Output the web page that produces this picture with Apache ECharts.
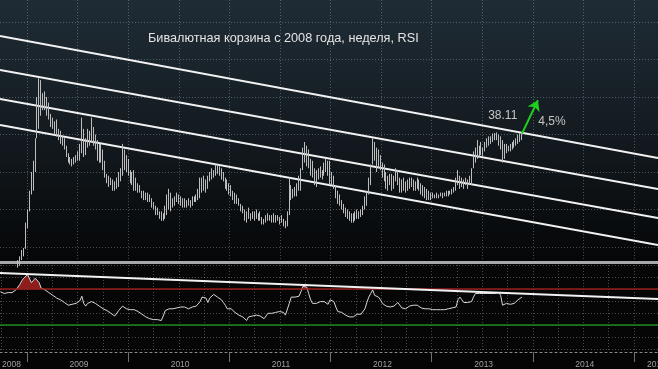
<!DOCTYPE html>
<html><head><meta charset="utf-8">
<script src="https://cdn.jsdelivr.net/npm/echarts@6/dist/echarts.min.js"></script>
<style>html,body{margin:0;padding:0;background:#050506;}#c{width:658px;height:369px;}</style>
</head><body><div id="c"></div>
<script>
// ---- data (weekly bars, decimal-year dates) ----
const weekStart = 2008.737;          // first weekly bar (late Sep 2008)
const weekStep = 7 / 365.25;
const highs = [
30.4,30.5,30.5,30.6,30.7,30.8,30.9,31.0,31.1,31.3,
31.5,31.84,31.95,33.3,34.0,35.0,36.0,36.6,37.8,40.0,
41.0,40.9,40.2,40.3,40.0,39.7,39.1,38.9,38.7,38.8,
38.3,38.2,37.9,37.8,37.4,37.0,36.8,36.7,36.8,36.9,
37.1,37.5,38.9,38.3,37.8,38.3,38.2,38.9,38.4,38.0,
37.7,37.5,37.5,37.2,36.6,35.9,35.8,35.7,35.6,35.5,
35.7,36.0,36.2,37.5,37.2,36.9,36.7,36.1,36.0,36.1,
35.7,35.4,35.3,35.0,35.0,34.9,34.9,34.8,34.6,34.4,
34.2,34.1,33.9,33.9,33.8,34.2,34.8,35.1,34.9,34.6,
34.7,34.9,34.8,34.7,34.6,34.6,34.5,34.6,34.5,34.7,
34.7,34.8,35.1,35.7,35.7,35.8,35.6,35.8,36.0,36.2,
36.1,36.4,36.4,36.3,36.2,36.0,35.7,35.6,35.4,35.3,
35.0,34.9,34.8,34.6,34.3,34.2,34.0,33.9,34.1,33.8,
33.9,33.9,34.0,33.8,33.9,33.6,33.5,33.7,33.8,33.7,
33.7,33.8,33.7,33.7,33.6,33.7,33.5,33.4,33.9,35.7,
35.3,35.1,35.2,35.4,35.8,36.2,37.3,37.6,37.4,37.2,
36.7,36.6,36.2,36.1,36.2,36.3,36.1,36.5,36.7,36.6,
36.6,36.0,35.8,35.3,35.0,34.8,34.5,34.3,34.1,34.0,
33.9,33.8,33.8,33.9,34.0,33.9,34.0,34.2,34.7,35.0,
35.7,36.4,37.8,37.6,37.3,37.2,36.9,36.5,36.4,36.0,
35.8,35.9,35.9,35.8,36.2,36.1,35.7,35.6,35.7,35.5,
35.6,35.7,35.7,35.6,35.5,35.7,35.6,35.4,35.3,35.2,
35.1,35.0,34.9,34.9,34.8,34.9,34.8,34.9,34.9,34.9,
35.0,35.0,35.0,35.1,35.2,35.7,36.1,35.8,35.7,35.6,
35.7,35.6,35.8,36.2,37.1,37.3,37.7,37.4,37.6,37.3,
37.6,37.8,37.9,37.9,38.05,38.08,38.11,38.0,37.9,37.7,
37.5,37.5,37.4,37.5,37.6,37.7,37.8,38.0,38.07,38.05
];
const lows = [
30.0,30.1,30.2,30.2,30.3,30.4,30.5,30.6,30.7,30.9,
31.0,31.3,31.5,31.9,33.0,33.9,34.8,35.0,36.0,37.8,
38.3,39.0,39.3,39.3,39.0,38.8,38.4,38.3,38.0,37.9,
37.7,37.5,37.4,37.2,36.8,36.5,36.4,36.3,36.4,36.5,
36.6,36.6,37.0,36.8,36.9,37.3,37.4,37.6,37.4,37.2,
36.6,36.5,36.5,36.1,35.7,35.4,35.2,35.3,35.0,35.0,
35.1,35.2,35.5,35.8,36.1,36.0,35.8,35.4,35.3,35.0,
35.0,34.9,34.9,34.6,34.5,34.5,34.4,34.4,34.1,34.0,
33.7,33.7,33.5,33.4,33.4,33.5,33.7,34.0,33.9,34.1,
34.2,34.4,34.3,34.2,34.1,34.1,34.1,34.2,34.1,34.2,
34.4,34.4,34.5,34.6,34.9,35.0,34.9,35.1,35.5,35.6,
35.7,35.8,35.9,35.8,35.6,35.5,35.1,35.0,34.8,34.7,
34.5,34.3,34.3,34.2,33.9,33.8,33.4,33.3,33.5,33.4,
33.5,33.4,33.5,33.4,33.4,33.2,33.2,33.3,33.4,33.4,
33.3,33.3,33.3,33.4,33.2,33.3,33.1,33.0,33.1,33.7,
34.5,34.6,34.7,34.7,35.0,35.0,36.1,36.5,36.3,36.2,
35.8,35.7,35.3,35.2,35.6,35.7,35.6,35.8,36.0,35.8,
35.3,35.3,35.1,34.6,34.3,34.2,34.0,33.8,33.6,33.5,
33.4,33.3,33.3,33.4,33.5,33.5,33.6,33.7,34.0,34.2,
34.8,35.3,36.4,36.6,36.0,36.2,36.1,35.7,35.5,35.1,
35.0,35.3,35.0,35.1,35.5,35.3,34.9,34.9,35.0,34.9,
35.0,35.1,35.2,35.0,35.0,35.1,35.0,34.8,34.7,34.6,
34.5,34.5,34.5,34.6,34.6,34.6,34.6,34.7,34.6,34.7,
34.7,34.7,34.8,34.8,34.9,35.0,35.3,35.1,35.2,35.1,
35.3,35.1,35.3,35.3,36.2,36.5,36.7,36.8,36.9,36.8,
37.1,37.3,37.4,37.5,37.6,37.7,37.7,37.4,37.2,36.5,
36.7,37.0,37.1,37.1,37.2,37.3,37.4,37.5,37.6,37.7
];
const rsi = [
67,66,65,66,66,66,66,67,69,71,
75,79,82,84,86,85,77,79,82,83,
77,71,70,69,68,66,65,63,61,60,
59,58,57,55,53,52,51,53,52,54,
54,57,62,54,51,54,55,56,55,54,
52,51,49,48,47,46,44,43,41,40,
42,46,48,51,53,48,46,47,48,47,
46,45,43,42,41,39,38,37,37,36,
35,36,34,35,40,46,44,48,49,48,
50,49,51,50,49,50,49,48,49,50,
50,51,53,56,61,62,60,55,60,61,
64,63,61,60,58,55,52,48,47,48,
46,44,42,41,40,39,37,35,39,41,
40,42,41,42,40,41,37,40,43,44,
43,45,44,45,45,46,44,41,39,54,
61,62,61,63,62,67,73,74,72,65,
58,54,56,54,55,56,54,56,54,53,
58,57,56,50,45,44,44,42,41,40,
39,39,39,40,42,42,42,43,48,55,
61,65,69,63,65,61,58,54,53,51,
52,50,51,51,53,55,53,49,50,48,
50,51,50,52,51,52,50,49,51,48,
49,48,46,47,46,47,48,47,48,47,
48,48,49,49,50,50,58,61,58,55,
56,55,54,56,61,65,66,65,66,65,
63,65,64,65,65,65,65,66,63,52,
50,54,54,53,52,54,56,58,60,61
];
// trend channel (price units) at left and right edges of the chart
const channelStart = [43.25, 41.44, 39.89, 38.51];
const channelEnd   = [36.75, 35.09, 33.55, 32.11];
// RSI trend line at left / right edge
const rsiTrend = [87.8, 58.9];
const rsiHigh = 70, rsiLow = 30;
// labelled recent high and forecast annotation
const labelSince = 2013.0;
const forecastPct = 4.5;
const forecastDate = 2014.05;
const years = [2009, 2010, 2011, 2012, 2013, 2014, 2015];
// left edges of the year labels
const yearLabelPos = [2008.753, 2009.42, 2010.42, 2011.42, 2012.42, 2013.42, 2014.42, 2015.128];
const title = 'Бивалютная корзина с 2008 года, неделя, RSI';

// ---- axes extents ----
const XMIN = 2008.7331, XMAX = 2015.237;
const YMIN = 31.2, YMAX = 45.173;

const dates = highs.map((_, j) => weekStart + j * weekStep);
const candles = highs.map((h, j) => [dates[j], lows[j], h, lows[j], h]);
let maxIdx = -1;
highs.forEach((h, j) => { if (dates[j] >= labelSince && (maxIdx < 0 || h > highs[maxIdx])) maxIdx = j; });
const last = highs.length - 1;
const target = highs[maxIdx] * (1 + forecastPct / 100);

const rsiData = rsi.map((v, j) => [dates[j], v]);
const rsiOver = rsi.map((v, j) => [dates[j], Math.max(v, rsiHigh)]);

const dotted = { color: 'rgba(150,165,175,0.45)', type: [1, 2], width: 1 };

const chart = echarts.init(document.getElementById('c'), null, { renderer: 'canvas' });
const series = [];
channelStart.forEach((s, k) => {
  series.push({ type: 'line', xAxisIndex: 0, yAxisIndex: 0, data: [[XMIN, s], [XMAX, channelEnd[k]]],
    symbol: 'none', silent: true, lineStyle: { color: '#f2f2f2', width: 2 }, z: 3 });
});
series.push({
  type: 'candlestick', xAxisIndex: 0, yAxisIndex: 0, data: candles, encode: { x: 0, y: [1, 2, 3, 4] },
  barWidth: 1, clip: true, z: 4,
  itemStyle: { color: '#c4c4c4', color0: '#c4c4c4', borderColor: '#bdbdbd', borderColor0: '#bdbdbd', borderWidth: 1 },
  markPoint: {
    symbol: 'circle', symbolSize: 0, silent: true,
    data: [
      { coord: [dates[maxIdx], highs[maxIdx]], value: highs[maxIdx].toFixed(2),
        label: { show: true, formatter: '{c}', offset: [6, -17], color: '#c4c4c4', fontSize: 12, fontFamily: 'Liberation Sans' } },
      { coord: [forecastDate, target], value: forecastPct,
        label: { show: true, formatter: () => String(forecastPct).replace('.', ',') + '%', offset: [14, 21], color: '#c4c4c4', fontSize: 12, fontFamily: 'Liberation Sans' } }
    ]
  },
  markLine: {
    silent: true, symbol: ['none', 'arrow'], symbolSize: 10,
    label: { show: false },
    lineStyle: { color: '#1ed01e', width: 2, type: 'solid' },
    itemStyle: { color: '#1ed01e' },
    data: [[{ coord: [dates[last], highs[last]] }, { coord: [forecastDate, target] }]]
  }
});
// RSI panel: overbought fill between RSI and the 70 level
series.push({ type: 'line', xAxisIndex: 1, yAxisIndex: 1, data: rsiOver, symbol: 'none',
  lineStyle: { opacity: 0 }, areaStyle: { color: '#8e1e1e', opacity: 1, origin: rsiHigh }, silent: true, z: 2 });
series.push({ type: 'line', xAxisIndex: 1, yAxisIndex: 1, data: rsiData, symbol: 'none', silent: true, z: 4,
  lineStyle: { color: '#d6d6d6', width: 1 },
  markLine: { silent: true, symbol: 'none', label: { show: false },
    data: [
      { yAxis: rsiHigh, lineStyle: { color: '#971c1c', width: 1.5, type: 'solid' } },
      { yAxis: rsiLow, lineStyle: { color: '#1d8a1d', width: 1.5, type: 'solid' } }
    ] } });
series.push({ type: 'line', xAxisIndex: 1, yAxisIndex: 1, data: [[XMIN, rsiTrend[0]], [XMAX, rsiTrend[1]]],
  symbol: 'none', silent: true, z: 5, lineStyle: { color: '#f2f2f2', width: 2 } });

chart.setOption({
  animation: false,
  backgroundColor: '#050506',
  title: { text: title, left: 143, top: 27, textStyle: { color: '#e4e4e4', fontSize: 12.7, fontWeight: 'normal', fontFamily: 'Liberation Sans' } },
  grid: [
    { left: 0, right: 0, top: 0, height: 262, show: true, borderWidth: 0, outerBoundsMode: 'none', containLabel: false,
      backgroundColor: new echarts.graphic.LinearGradient(0, 0, 0, 1, [
        { offset: 0, color: '#1f2c35' }, { offset: 0.45, color: '#151d23' }, { offset: 1, color: '#050607' }]) },
    { left: 0, right: 0, top: 262, height: 90, show: true, borderWidth: 0, backgroundColor: '#060607',
      outerBoundsMode: 'none', containLabel: false }
  ],
  xAxis: [
    { type: 'value', gridIndex: 0, min: XMIN, max: XMAX, splitNumber: 13, minInterval: 0.5, maxInterval: 0.5,
      axisLine: { show: true, onZero: false, lineStyle: { color: '#a8a8a8', width: 3 } },
      axisTick: { show: false }, axisLabel: { show: false },
      splitLine: { show: true, showMinLine: false, showMaxLine: false, lineStyle: dotted } },
    { type: 'value', gridIndex: 1, min: XMIN, max: XMAX, splitNumber: 26, minInterval: 0.25, maxInterval: 0.25,
      axisLine: { show: true, onZero: false, lineStyle: { color: '#8a8a8a', width: 1, type: [2, 3] } },
      axisTick: { show: false },
      axisLabel: { show: true, customValues: yearLabelPos, formatter: (v) => String(Math.floor(v)),
        align: 'left', hideOverlap: false,
        color: '#a0a0a0', fontSize: 8.5, fontFamily: 'Liberation Sans', margin: 8 },
      splitLine: { show: true, showMinLine: false, showMaxLine: false, lineStyle: dotted } },
    { type: 'value', gridIndex: 1, min: XMIN, max: XMAX, position: 'bottom', offset: 8,
      axisLine: { show: false }, axisLabel: { show: false }, splitLine: { show: false },
      axisTick: { show: true, customValues: years, length: 10, lineStyle: { color: '#707070', width: 1 } } }
  ],
  yAxis: [
    { type: 'value', gridIndex: 0, min: YMIN, max: YMAX, splitNumber: 7, minInterval: 2, maxInterval: 2,
      axisLine: { show: false }, axisTick: { show: false }, axisLabel: { show: false },
      splitLine: { show: true, showMinLine: false, showMaxLine: false, lineStyle: dotted } },
    { type: 'value', gridIndex: 1, min: 0, max: 100,
      axisLine: { show: false }, axisTick: { show: false }, axisLabel: { show: false }, splitLine: { show: false } },
    { type: 'value', gridIndex: 1, min: -2.25, max: 5.25, splitNumber: 7, minInterval: 1, maxInterval: 1,
      axisLine: { show: false }, axisTick: { show: false }, axisLabel: { show: false },
      splitLine: { show: true, showMinLine: false, showMaxLine: false, lineStyle: dotted } }
  ],
  series: series
});
</script></body></html>
